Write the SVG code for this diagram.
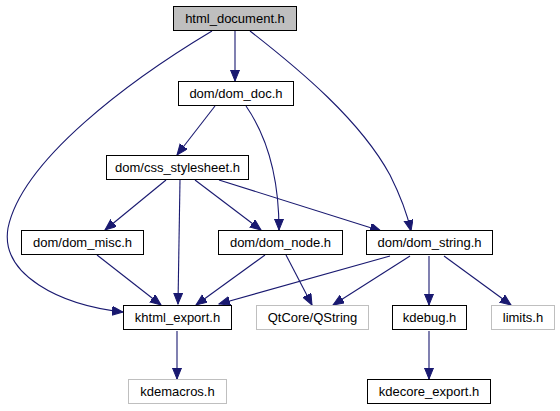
<svg xmlns="http://www.w3.org/2000/svg" width="560" height="411" viewBox="0 0 560 411">
<style>
.n rect{fill:#fff;stroke:#000;stroke-width:1}
.n.g rect{stroke:#bfbfbf}
.n.cur rect{fill:#bfbfbf;stroke:#000}
.n text{font-family:"Liberation Sans",Arial,sans-serif;font-size:13px;text-anchor:middle;fill:#000}
.e path{fill:none;stroke:#191970;stroke-width:1.1;marker-end:url(#a)}
</style>
<defs>
<marker id="a" markerUnits="userSpaceOnUse" markerWidth="13" markerHeight="11" refX="11" refY="4.5" orient="auto">
<path d="M0,0 L11,4.5 L0,9 z" fill="#191970" stroke="#191970" stroke-width="1"/>
</marker>
</defs>
<rect width="560" height="411" fill="#fff"/>
<g id="edges" class="e">
<path d="M235,31 L235,81"/>
<path d="M212,31 C130,80 22,160 8,228 C0,275 60,305 123,312"/>
<path d="M250,31 C300,70 360,120 390,175 C400,195 407,213 411,231"/>
<path d="M215,106 L177,155"/>
<path d="M246,106 C266,135 279,175 279,230"/>
<path d="M166,180 L105,230"/>
<path d="M180,180 L178,304"/>
<path d="M195,180 L261,230"/>
<path d="M219,180 L381,231"/>
<path d="M97,255 L161,305"/>
<path d="M265,255 L196,305"/>
<path d="M286,255 L312,305"/>
<path d="M390,256 L219,304"/>
<path d="M410,256 L333,305"/>
<path d="M429,256 L429,305"/>
<path d="M444,256 L511,305"/>
<path d="M177,331 L177,379"/>
<path d="M429,331 L429,379"/>
</g>
<g id="html_document" class="n cur"><rect x="173.5" y="6.5" width="123" height="24"/><text x="235" y="23">html_document.h</text></g>
<g id="dom_doc" class="n"><rect x="178.5" y="81.5" width="115" height="24"/><text x="236" y="98">dom/dom_doc.h</text></g>
<g id="css_stylesheet" class="n"><rect x="106.5" y="155.5" width="142" height="24"/><text x="177.5" y="172">dom/css_stylesheet.h</text></g>
<g id="dom_misc" class="n"><rect x="21.5" y="230.5" width="122" height="24"/><text x="82.5" y="247">dom/dom_misc.h</text></g>
<g id="dom_node" class="n"><rect x="218.5" y="230.5" width="124" height="24"/><text x="280.5" y="247">dom/dom_node.h</text></g>
<g id="dom_string" class="n"><rect x="366.5" y="230.5" width="126" height="24"/><text x="429.5" y="247">dom/dom_string.h</text></g>
<g id="khtml_export" class="n"><rect x="123.5" y="305.5" width="108" height="24"/><text x="177.5" y="322">khtml_export.h</text></g>
<g id="qstring" class="n g"><rect x="256.5" y="305.5" width="112" height="24"/><text x="312.5" y="322">QtCore/QString</text></g>
<g id="kdebug" class="n"><rect x="392.5" y="305.5" width="74" height="24"/><text x="429.5" y="322">kdebug.h</text></g>
<g id="limits" class="n g"><rect x="491.5" y="305.5" width="63" height="24"/><text x="523" y="322">limits.h</text></g>
<g id="kdemacros" class="n g"><rect x="128.5" y="379.5" width="98" height="24"/><text x="177.5" y="396">kdemacros.h</text></g>
<g id="kdecore_export" class="n"><rect x="367.5" y="379.5" width="123" height="24"/><text x="429" y="396">kdecore_export.h</text></g>
</svg>
